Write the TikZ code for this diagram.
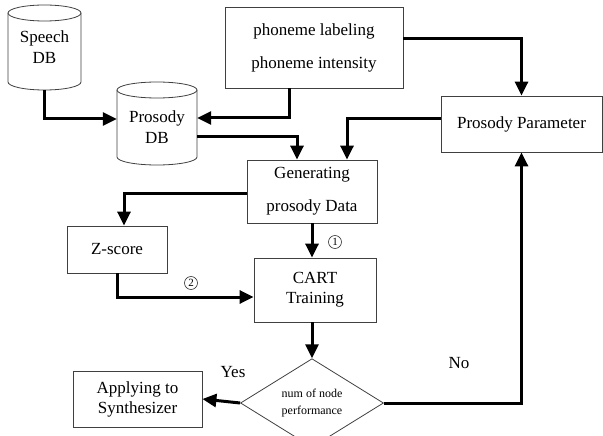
\documentclass[tikz,border=0pt]{standalone}
\usepackage{fontspec}
\setmainfont{Liberation Serif}
\usetikzlibrary{arrows.meta,shapes.geometric}
\tikzset{
  box/.style={draw=black!75, line width=0.8pt, rectangle, inner sep=0pt, align=center, font=\fontsize{17}{20}\selectfont},
  dbtext/.style={inner sep=0pt, align=center, font=\fontsize{17}{21}\selectfont},
  arr/.style={line width=3pt, -{Triangle[length=14pt,width=13pt]}},
  lbl/.style={inner sep=0pt, font=\fontsize{17}{20}\selectfont},
  circ/.style={draw=black!80, line width=0.6pt, circle, inner sep=0pt, minimum size=13pt, font=\fontsize{11}{11}\selectfont},
  cyl/.style={draw=black!75, line width=0.8pt, fill=white}
}
\begin{document}
\begin{tikzpicture}[x=1pt,y=-1pt]
\useasboundingbox (0,0) rectangle (603,436);
% cylinders
\draw[cyl] (8,13) -- (8,82) arc[start angle=180,end angle=0,x radius=36.5,y radius=8] -- (81,13);
\draw[cyl] (44.5,13) ellipse [x radius=36.5, y radius=8];
\node[dbtext, minimum width=73pt, minimum height=85pt] (sdb) at (44.5,47.5) {Speech\\DB};
\draw[cyl] (117,90) -- (117,157) arc[start angle=180,end angle=0,x radius=40,y radius=8] -- (197,90);
\draw[cyl] (157,90) ellipse [x radius=40, y radius=8];
\node[dbtext, minimum width=80pt, minimum height=83pt] (pdb) at (157,123.5) {\\[-1pt]Prosody\\DB};
% boxes
\node[box, minimum width=178pt, minimum height=81pt] (phon) at (314,47.5) {phoneme labeling\\[13pt]phoneme intensity};
\node[box, minimum width=161pt, minimum height=56pt] (ppar) at (521.5,124) {Prosody Parameter};
\node[box, minimum width=130pt, minimum height=63pt] (gen) at (312,191.5) {Generating\\[13pt]prosody Data};
\node[box, minimum width=100pt, minimum height=47pt] (zs) at (117,249.5) {Z-score};
\node[box, minimum width=122pt, minimum height=64pt] (cart) at (315,290) {CART\\Training};
\node[box, minimum width=129pt, minimum height=56pt] (app) at (137.5,399) {Applying to\\Synthesizer};
\node[draw=black!75, line width=0.8pt, diamond, minimum width=143pt, minimum height=80pt, inner sep=0pt, align=center, font=\fontsize{12}{17}\selectfont] (dia) at (312,403) {num of node\\performance};
% labels
\node[lbl] (yes) at (233,372) {Yes};
\node[lbl] (no) at (459,363) {No};
\node[circ] (c1) at (335,242) {1};
\node[circ] (c2) at (191,283) {2};
% connectors
\draw[arr] (sdb.south) |- (pdb.west |- 0,119);
\draw[arr] (phon.south -| 289,0) |- (pdb.east |- 0,118);
\draw[arr] (pdb.east |- 0,136) -| (gen.north -| 297,0);
\draw[arr] (ppar.west |- 0,119) -| (gen.north -| 347,0);
\draw[arr] (phon.east |- 0,39) -| (ppar.north);
\draw[arr] (gen.west |- 0,193) -| (zs.north -| 124,0);
\draw[arr] (gen.south) -- (cart.north -| gen.south);
\draw[arr] (zs.south) |- (cart.west |- 0,297);
\draw[arr] (cart.south -| dia.north) -- (dia.north);
\draw[arr] (dia.west) -- (app.east);
\draw[arr] (dia.east) -| (ppar.south);
\end{tikzpicture}
\end{document}
